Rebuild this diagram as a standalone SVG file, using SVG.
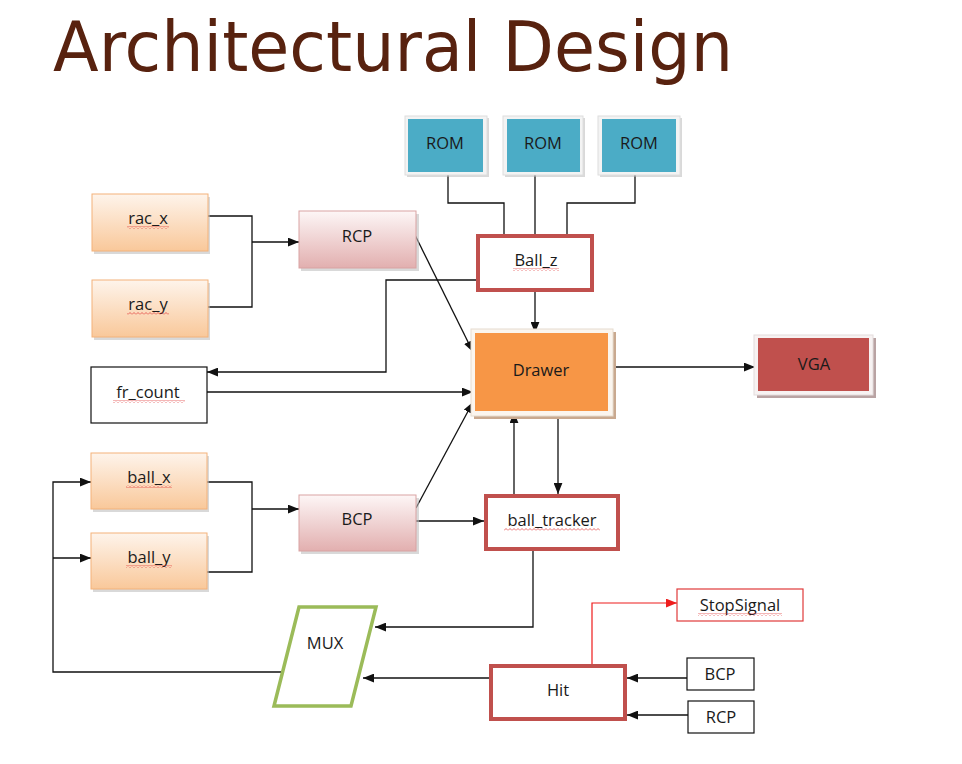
<svg xmlns="http://www.w3.org/2000/svg" width="962" height="764" viewBox="0 0 962 764">
<style>
.lbl{font-family:"Open Sans","Liberation Sans",sans-serif;font-size:16.5px;fill:#1a1a1a;text-anchor:middle}
.c{fill:none;stroke:#111;stroke-width:1.3}
.cr{fill:none;stroke:#ee1c1c;stroke-width:1.2}
.sh{fill:#b9b9b9;opacity:.55}
.or{fill:url(#gOr);stroke:#f3b27a;stroke-width:1}
.pk{fill:url(#gPk);stroke:#d9a3a3;stroke-width:1}
.rb{fill:#fff;stroke:#c0504d;stroke-width:4}
.wb{fill:#fff;stroke:#111;stroke-width:1.2}
.frm{fill:#f3f3f3;stroke:#dedede;stroke-width:1}
.sq{fill:url(#sqz)}
</style>
<defs>
<linearGradient id="gOr" x1="0" y1="0" x2="0" y2="1"><stop offset="0" stop-color="#fef4eb"/><stop offset="1" stop-color="#f9c89a"/></linearGradient>
<linearGradient id="gPk" x1="0" y1="0" x2="0" y2="1"><stop offset="0" stop-color="#fdf6f6"/><stop offset="1" stop-color="#e2afaf"/></linearGradient>
<pattern id="sqz" width="4" height="3" patternUnits="userSpaceOnUse"><path d="M0 2.5 L2 0.5 L4 2.5" fill="none" stroke="#e03030" stroke-width="0.7"/></pattern>
<marker id="ah" viewBox="0 0 10 8" refX="10" refY="4" markerWidth="11" markerHeight="9" markerUnits="userSpaceOnUse" orient="auto"><path d="M0 0 L10 4 L0 8 Z" fill="#111"/></marker>
<marker id="ahr" viewBox="0 0 10 8" refX="10" refY="4" markerWidth="11" markerHeight="9" markerUnits="userSpaceOnUse" orient="auto"><path d="M0 0 L10 4 L0 8 Z" fill="#ee1c1c"/></marker>
</defs>
<rect width="962" height="764" fill="#fff"/>
<text x="53" y="71" font-family="DejaVu Sans,sans-serif" font-size="69" fill="#58220f" textLength="680" lengthAdjust="spacingAndGlyphs">Architectural Design</text>

<g id="connectors">
<path class="c" d="M448 172 V203 H504 V234"/>
<path class="c" d="M535 172 V234"/>
<path class="c" d="M635 172 V203 H567 V234"/>
<path class="c" d="M208 216 H252 V307 H208"/>
<path class="c" d="M252 242 H299" marker-end="url(#ah)"/>
<path class="c" d="M415 235 L473 352" marker-end="url(#ah)"/>
<path class="c" d="M535 292 V333" marker-end="url(#ah)"/>
<path class="c" d="M476 280 H386 V372 H207" marker-end="url(#ah)"/>
<path class="c" d="M207 392 H473" marker-end="url(#ah)"/>
<path class="c" d="M612 367 H755" marker-end="url(#ah)"/>
<path class="c" d="M207 482 H252 V572 H207"/>
<path class="c" d="M252 509 H299" marker-end="url(#ah)"/>
<path class="c" d="M416 508 L473 402" marker-end="url(#ah)"/>
<path class="c" d="M416 521 H484" marker-end="url(#ah)"/>
<path class="c" d="M514 494 V412" marker-end="url(#ah)"/>
<path class="c" d="M558 413 V494" marker-end="url(#ah)"/>
<path class="c" d="M533 551 V627 H375" marker-end="url(#ah)"/>
<path class="c" d="M489 678 H363" marker-end="url(#ah)"/>
<path class="c" d="M283 672 H53 V482 H91" marker-end="url(#ah)"/>
<path class="c" d="M53 558 H91" marker-end="url(#ah)"/>
<path class="c" d="M687 678 H627" marker-end="url(#ah)"/>
<path class="c" d="M688 715 H627" marker-end="url(#ah)"/>
<path class="cr" d="M592 664 V603 H677" marker-end="url(#ahr)"/>
</g>

<g id="rom1"><rect class="sh" x="407" y="118" width="82" height="59"/><rect class="frm" x="405" y="116" width="82" height="59"/><rect x="408" y="119" width="75" height="53" fill="#4bacc6"/><text class="lbl" x="445" y="149" fill="#1d2f3a">ROM</text></g>
<g id="rom2"><rect class="sh" x="505" y="118" width="80" height="59"/><rect class="frm" x="503" y="116" width="80" height="59"/><rect x="507" y="119" width="73" height="53" fill="#4bacc6"/><text class="lbl" x="543" y="149" fill="#1d2f3a">ROM</text></g>
<g id="rom3"><rect class="sh" x="600" y="118" width="82" height="59"/><rect class="frm" x="598" y="116" width="82" height="59"/><rect x="602" y="119" width="74" height="53" fill="#4bacc6"/><text class="lbl" x="639" y="149" fill="#1d2f3a">ROM</text></g>

<g id="ball_z"><rect class="rb" x="478" y="236" width="114" height="54"/><text class="lbl" x="536" y="266">Ball_z</text><rect class="sq" x="513" y="268" width="46" height="3"/></g>

<g id="rac_x"><rect class="sh" x="94" y="197" width="116" height="57"/><rect class="or" x="92" y="194" width="116" height="57"/><text class="lbl" x="148" y="224">rac_x</text><rect class="sq" x="127" y="226" width="42" height="3"/></g>
<g id="rac_y"><rect class="sh" x="94" y="283" width="116" height="57"/><rect class="or" x="92" y="280" width="116" height="57"/><text class="lbl" x="148" y="310">rac_y</text><rect class="sq" x="127" y="312" width="42" height="3"/></g>

<g id="rcp"><rect class="sh" x="301" y="214" width="118" height="57"/><rect class="pk" x="299" y="211" width="117" height="57"/><text class="lbl" x="357" y="242">RCP</text></g>

<g id="fr_count"><rect class="wb" x="91" y="367" width="116" height="56"/><text class="lbl" x="148" y="398">fr_count</text><rect class="sq" x="113" y="400" width="72" height="3"/></g>

<g id="drawer"><rect x="474" y="332" width="142" height="87" fill="#c9a98f"/><rect x="471" y="329" width="142" height="87" fill="#fbf5ee" stroke="#e6dccf" stroke-width="1"/><rect x="475" y="333" width="133" height="78" fill="#f79646"/><text class="lbl" x="541" y="376" fill="#2d2016">Drawer</text></g>

<g id="vga"><rect x="757" y="338" width="119" height="60" fill="#b9a3a3"/><rect x="754" y="335" width="119" height="60" fill="#f7f2f2" stroke="#e3dcdc" stroke-width="1"/><rect x="758" y="338" width="111" height="53" fill="#c0504d"/><text class="lbl" x="814" y="370" fill="#2a1111">VGA</text></g>

<g id="ball_x"><rect class="sh" x="93" y="456" width="116" height="56"/><rect class="or" x="91" y="453" width="116" height="56"/><text class="lbl" x="149" y="483">ball_x</text><rect class="sq" x="126" y="485" width="46" height="3"/></g>
<g id="ball_y"><rect class="sh" x="93" y="536" width="116" height="56"/><rect class="or" x="91" y="533" width="116" height="56"/><text class="lbl" x="149" y="563">ball_y</text><rect class="sq" x="126" y="565" width="46" height="3"/></g>

<g id="bcp"><rect class="sh" x="301" y="498" width="118" height="56"/><rect class="pk" x="299" y="495" width="117" height="56"/><text class="lbl" x="357" y="525">BCP</text></g>

<g id="ball_tracker"><rect class="rb" x="486" y="496" width="132" height="53"/><text class="lbl" x="552" y="526">ball_tracker</text><rect class="sq" x="504" y="528" width="96" height="3"/></g>

<g id="mux"><polygon points="299,607 376,607 351,706 274,706" fill="#fff" stroke="#9bbb59" stroke-width="3.5"/><text class="lbl" x="325" y="649" fill="#222">MUX</text></g>

<g id="hit"><rect class="rb" x="491" y="666" width="134" height="53"/><text class="lbl" x="558" y="696">Hit</text></g>

<g id="stopsignal"><rect x="677" y="589" width="126" height="32" fill="#fff" stroke="#e03a3a" stroke-width="1.2"/><text class="lbl" x="740" y="611">StopSignal</text><rect class="sq" x="698" y="613" width="84" height="3"/></g>

<g id="bcp_in"><rect class="wb" x="687" y="658" width="67" height="32"/><text class="lbl" x="720" y="680">BCP</text></g>
<g id="rcp_in"><rect class="wb" x="688" y="701" width="66" height="32"/><text class="lbl" x="721" y="723">RCP</text></g>
</svg>
